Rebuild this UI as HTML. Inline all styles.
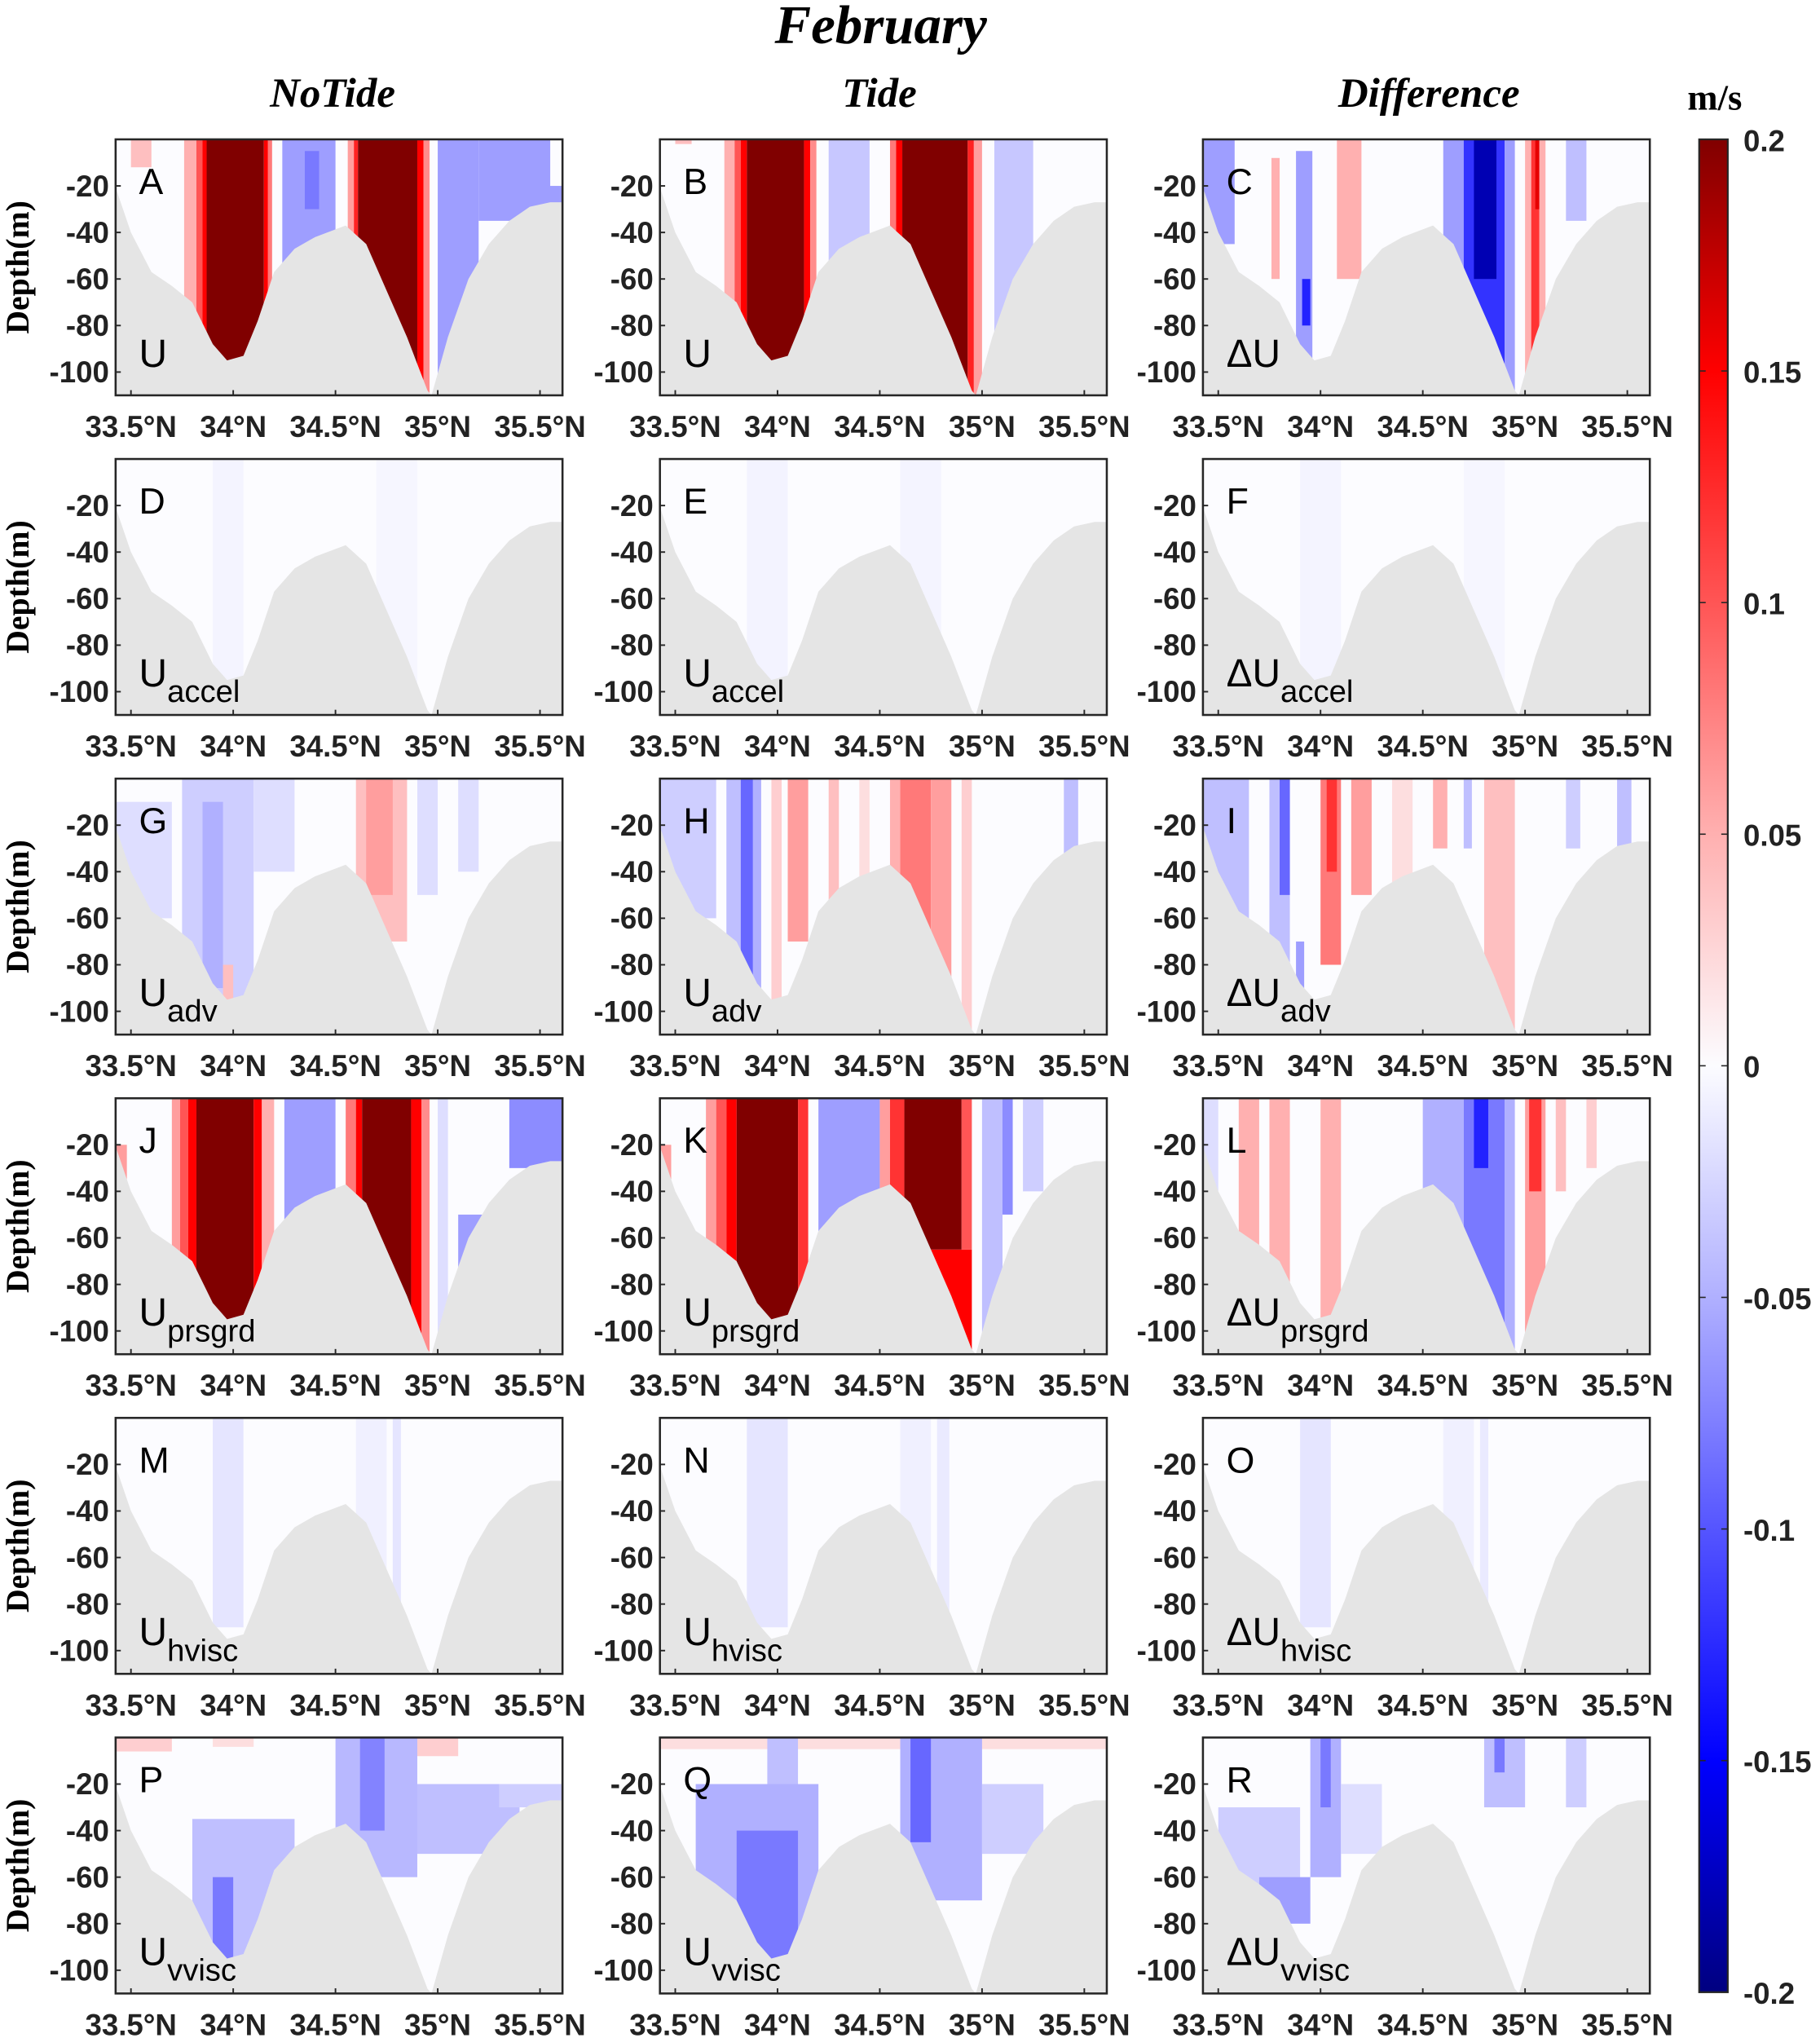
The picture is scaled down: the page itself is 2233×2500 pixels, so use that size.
<!DOCTYPE html>
<html><head><meta charset="utf-8">
<style>
html,body{margin:0;padding:0;background:#fff;}
svg{display:block;}
.tk{font-family:"Liberation Sans Narrow","Liberation Sans",sans-serif;font-weight:bold;font-size:23px;fill:#222;}
.ttl{font-family:"Liberation Serif",serif;font-weight:bold;font-style:italic;}
.lab{font-family:"Liberation Sans",sans-serif;fill:#000;}
</style></head>
<body>
<svg id="fig" width="2233" height="2500" viewBox="0 0 1401 1568" xmlns="http://www.w3.org/2000/svg">
<text class="ttl" x="678" y="33" font-size="42" text-anchor="middle">February</text>
<text class="ttl" x="256" y="82" font-size="32" text-anchor="middle">NoTide</text>
<text class="ttl" x="677" y="82" font-size="32" text-anchor="middle">Tide</text>
<text class="ttl" x="1100" y="82" font-size="32" text-anchor="middle">Difference</text>
<text x="1320" y="84" font-size="28" font-weight="bold" font-family="Liberation Serif,serif" text-anchor="middle">m/s</text>
<g id="panels"></g>
<g id="cbar"></g>
</svg>
<script>
// Bathymetry profile (lat, depth m)
const bathyLat = [33.43,33.5,33.6,33.7,33.8,33.9,33.97,34.05,34.12,34.2,34.3,34.4,34.55,34.65,34.75,34.85,34.95,34.97,35.05,35.15,35.25,35.35,35.45,35.55,35.61];
const bathyDep = [-22,-40,-57,-63,-70,-88,-95,-93,-78,-57,-47,-42,-37,-45,-65,-85,-108,-110,-85,-60,-45,-35,-29,-27,-27];
const xTicks = [33.5,34,34.5,35,35.5];
const xTickLabels = ["33.5°N","34°N","34.5°N","35°N","35.5°N"];
const yTicks = [-20,-40,-60,-80,-100];
const cbTicks = [0.2,0.15,0.1,0.05,0,-0.05,-0.1,-0.15,-0.2];
const panelLetters = ["A","B","C","D","E","F","G","H","I","J","K","L","M","N","O","P","Q","R"];
const rowSubs = ["","accel","adv","prsgrd","hvisc","vvisc"];
// bands: [lat0, lat1, value, topDepth, bottomDepth]
const bandsA = [[33.5,33.6,0.04,0,-12],[33.76,33.82,0.05],[33.82,33.85,0.1],[33.85,33.87,0.15],[33.87,34.15,0.2],[34.15,34.17,0.15],[34.17,34.19,0.08],[34.24,34.5,-0.06],[34.35,34.42,-0.08,-5,-30],[34.56,34.59,0.06],[34.59,34.61,0.13],[34.61,34.9,0.2],[34.9,34.93,0.15],[34.93,34.96,0.07],[35.0,35.2,-0.06],[35.2,35.61,-0.06,0,-35],[35.55,35.61,0,0,-20]];
const bandsB = [[33.5,33.58,0.04,0,-2],[33.74,33.79,0.05],[33.79,33.82,0.1],[33.82,33.85,0.15],[33.85,34.13,0.2],[34.13,34.16,0.15],[34.16,34.19,0.07],[34.25,34.45,-0.035],[34.55,34.58,0.08],[34.58,34.61,0.15],[34.61,34.93,0.2],[34.93,34.96,0.13],[34.96,35.0,0.06],[35.06,35.25,-0.035]];
const bandsC = [[33.43,33.58,-0.06,0,-45],[33.76,33.8,0.05,-8,-60],[33.88,33.96,-0.06,-5,-95],[33.91,33.95,-0.13,-60,-80],[34.08,34.2,0.05,0,-60],[34.6,34.7,-0.06,0,-60],[34.7,34.9,-0.12],[34.75,34.86,-0.18,0,-60],[34.9,34.95,-0.06],[35.0,35.03,0.05],[35.03,35.07,0.12],[35.05,35.07,0.16,0,-30],[35.07,35.1,0.05],[35.2,35.3,-0.04,0,-35]];
const bandsD = [[33.9,34.05,-0.005],[34.7,34.9,-0.004]];
const bandsE = [[33.85,34.05,-0.006],[34.6,34.8,-0.005]];
const bandsF = [[33.9,34.1,-0.005],[34.7,34.9,-0.004]];
const bandsG = [[33.43,33.7,-0.02,-10,-60],[33.75,34.1,-0.03],[33.85,33.95,-0.05,-10,-90],[33.95,34.0,0.04,-80,-95],[34.1,34.3,-0.02,0,-40],[34.6,34.85,0.04,0,-70],[34.65,34.78,0.06,0,-50],[34.9,35.0,-0.02,0,-50],[35.1,35.2,-0.02,0,-40]];
const bandsH = [[33.43,33.7,-0.03,0,-60],[33.75,33.82,-0.04],[33.82,33.88,-0.09,0,-90],[33.88,33.92,-0.05],[33.97,34.02,0.03],[34.05,34.15,0.06,0,-70],[34.25,34.3,0.04],[34.4,34.45,0.02],[34.55,34.6,0.05],[34.6,34.75,0.08,0,-70],[34.75,34.85,0.06,0,-100],[34.9,34.95,0.03],[35.4,35.47,-0.04,0,-40]];
const bandsI = [[33.43,33.65,-0.04,0,-60],[33.75,33.85,-0.04],[33.8,33.85,-0.09,0,-50],[33.88,33.92,-0.06,-70,-90],[34.0,34.1,0.08,0,-80],[34.03,34.08,0.12,0,-40],[34.15,34.25,0.06,0,-50],[34.35,34.45,0.02],[34.55,34.62,0.05,0,-30],[34.7,34.74,-0.04,0,-30],[34.8,34.95,0.04],[35.2,35.27,-0.03,0,-30],[35.45,35.52,-0.04,0,-30]];
const bandsJ = [[33.43,33.48,0.06,-20,-50],[33.7,33.74,0.06],[33.74,33.78,0.1],[33.78,33.82,0.15],[33.82,34.1,0.2],[34.1,34.14,0.15],[34.14,34.2,0.05],[34.25,34.5,-0.06],[34.55,34.6,0.08],[34.6,34.63,0.15],[34.63,34.87,0.2],[34.87,34.92,0.15],[34.92,34.96,0.07],[35.0,35.05,-0.02],[35.1,35.25,-0.06,-50,-80],[35.35,35.61,-0.07,0,-30]];
const bandsK = [[33.43,33.48,0.06,-20,-50],[33.65,33.7,0.06],[33.7,33.75,0.1],[33.75,33.8,0.15],[33.8,34.1,0.2],[34.1,34.15,0.12],[34.2,34.5,-0.06],[34.5,34.55,0.06],[34.55,34.62,0.12],[34.62,34.95,0.15,-65,-110],[34.62,34.9,0.2,0,-65],[34.9,34.95,0.1,0,-65],[35.0,35.1,-0.04],[35.1,35.15,-0.07,0,-50],[35.2,35.3,-0.03,0,-40]];
const bandsL = [[33.43,33.5,-0.02,0,-40],[33.6,33.7,0.05],[33.62,33.66,0.1,-70,-80],[33.75,33.85,0.05],[34.0,34.1,0.05],[34.5,34.7,-0.05],[34.7,34.9,-0.08],[34.75,34.82,-0.13,0,-30],[34.9,34.95,-0.05],[35.0,35.1,0.06],[35.02,35.08,0.12,0,-40],[35.15,35.2,0.04,0,-40],[35.3,35.35,0.03,0,-30]];
const bandsM = [[33.9,34.05,-0.015,0,-90],[34.6,34.75,-0.008],[34.78,34.82,-0.015]];
const bandsN = [[33.85,34.05,-0.015,0,-90],[34.6,34.75,-0.008],[34.78,34.84,-0.012]];
const bandsO = [[33.9,34.05,-0.015,0,-90],[34.6,34.75,-0.008],[34.78,34.82,-0.012]];
const bandsP = [[33.43,33.7,0.03,0,-6],[33.9,34.1,0.02,0,-4],[34.8,35.1,0.03,0,-8],[33.8,34.3,-0.04,-35,-100],[33.9,34.0,-0.08,-60,-95],[34.6,35.4,-0.04,-20,-50],[34.5,34.9,-0.045,0,-60],[34.62,34.74,-0.075,0,-40],[35.3,35.61,-0.03,-20,-30]];
const bandsQ = [[33.43,35.61,0.02,0,-5],[33.6,34.2,-0.05,-20,-100],[33.8,34.1,-0.08,-40,-95],[33.95,34.1,-0.04,0,-20],[34.6,35.0,-0.05,0,-70],[34.65,34.75,-0.09,0,-45],[35.0,35.3,-0.03,-20,-50]];
const bandsR = [[33.5,33.9,-0.03,-30,-70],[33.7,33.95,-0.06,-60,-80],[33.95,34.1,-0.05,0,-60],[34.0,34.05,-0.08,0,-30],[34.1,34.3,-0.02,-20,-50],[34.6,34.68,0.04,-60,-80],[34.8,35.0,-0.04,0,-30],[34.85,34.9,-0.08,0,-15],[35.2,35.3,-0.03,0,-30]];
const allBands = [bandsA,bandsB,bandsC,bandsD,bandsE,bandsF,bandsG,bandsH,bandsI,bandsJ,bandsK,bandsL,bandsM,bandsN,bandsO,bandsP,bandsQ,bandsR];

const NS="http://www.w3.org/2000/svg";
const colX=[89,508,926], rowY=[107,353,599,845,1091,1337], PW=344, PH=197;
const LAT0=33.425, LAT1=35.61, D0=0, D1=-110;
function xs(lat,x0){return x0+(lat-LAT0)/(LAT1-LAT0)*PW;}
function ys(d,y0){return y0+(D0-d)/(D0-D1)*PH;}
const stops=[[-0.2,[0,0,128]],[-0.15,[0,0,255]],[-0.1,[85,85,255]],[-0.05,[176,176,255]],[0,[252,252,255]],[0.05,[255,176,176]],[0.1,[255,85,85]],[0.15,[255,0,0]],[0.2,[128,0,0]]];
function color(v){
  v=Math.max(-0.2,Math.min(0.2,v));
  for(let i=0;i<stops.length-1;i++){const a=stops[i],b=stops[i+1];
    if(v>=a[0]&&v<=b[0]){const t=(v-a[0])/(b[0]-a[0]);
      return 'rgb('+a[1].map((c,k)=>Math.round(c+(b[1][k]-c)*t)).join(',')+')';}}
  return '#fff';
}
function el(tag,attrs,parent){const e=document.createElementNS(NS,tag);for(const k in attrs)e.setAttribute(k,attrs[k]);parent.appendChild(e);return e;}
const root=document.getElementById('panels');
allBands.forEach((bands,p)=>{
  const r=Math.floor(p/3), c=p%3, x0=colX[c], y0=rowY[r];
  const g=el('g',{},root);
  
  
  const cid='clip'+p;
  const cp=el('clipPath',{id:cid},g); el('rect',{x:x0,y:y0,width:PW,height:PH},cp);
  const inner=el('g',{'clip-path':'url(#'+cid+')'},g);
  el('rect',{x:x0,y:y0,width:PW,height:PH,fill:'#fcfcff'},inner);
  bands.forEach(b=>{
    const top=b.length>3?b[3]:0, bot=b.length>4?b[4]:-110;
    const rc=el('rect',{x:xs(b[0],x0),y:ys(top,y0),width:xs(b[1],x0)-xs(b[0],x0),height:ys(bot,y0)-ys(top,y0),fill:color(b[2])},inner);
    
    
  });
  let pts=bathyLat.map((l,i)=>xs(l,x0).toFixed(1)+','+ys(bathyDep[i],y0).toFixed(1));
  pts.push(xs(LAT1,x0)+','+(y0+PH+2)); pts.push(xs(LAT0,x0)+','+(y0+PH+2));
  const bp=el('polygon',{points:pts.join(' '),fill:'#e5e5e5'},inner);
  
  
  const fr=el('rect',{x:x0,y:y0,width:PW,height:PH,fill:'none',stroke:'#262626','stroke-width':1.6},g);
  
  
  xTicks.forEach((t,i)=>{
    const x=xs(t,x0);
    el('line',{x1:x,x2:x,y1:y0+PH,y2:y0+PH-4,stroke:'#262626','stroke-width':1.2},g);
    const tx=el('text',{x:x,y:y0+PH+32,'text-anchor':'middle',class:'tk'},g);
    tx.textContent=xTickLabels[i];
    
    
  });
  yTicks.forEach(t=>{
    const y=ys(t,y0);
    el('line',{x1:x0,x2:x0+4,y1:y,y2:y,stroke:'#262626','stroke-width':1.2},g);
    const tx=el('text',{x:x0-5,y:y+8,'text-anchor':'end',class:'tk'},g);
    tx.textContent=String(t);
    
    
  });
  if(c===0){
    const yt=el('text',{x:0,y:0,transform:'translate(22,'+(y0+PH/2)+') rotate(-90)','text-anchor':'middle','font-size':25,'font-weight':'bold','font-family':'Liberation Serif,serif'},g);
    yt.textContent='Depth(m)';
    
    
  }
  const lt=el('text',{x:x0+18,y:y0+42,'font-size':28,class:'lab'},g);
  lt.textContent=panelLetters[p];
  
  
  const vl=el('text',{x:x0+(c===2?18:18),y:y0+175,'font-size':30,class:'lab'},g);
  
  
  const m=el('tspan',{},vl); m.textContent=(c===2?'ΔU':'U');
  if(rowSubs[r]){const s=el('tspan',{dy:12,'font-size':24},vl); s.textContent=rowSubs[r];}
});
// colorbar
const cb=document.getElementById('cbar');
const cbX=1308, cbW=22, cbT=107, cbB=1533;
const defs=el('defs',{},cb);
const lg=el('linearGradient',{id:'cbg',x1:0,y1:0,x2:0,y2:1},defs);
stops.slice().reverse().forEach((s,i)=>el('stop',{offset:(i/(stops.length-1)),'stop-color':color(s[0])},lg));
const cbr=el('rect',{x:cbX,y:cbT,width:cbW,height:cbB-cbT,fill:'url(#cbg)',stroke:'#262626','stroke-width':1.4},cb);


cbTicks.forEach(t=>{
  const y=cbT+(0.2-t)/0.4*(cbB-cbT);
  el('line',{x1:cbX,x2:cbX+5,y1:y,y2:y,stroke:'#262626'},cb);
  el('line',{x1:cbX+cbW-5,x2:cbX+cbW,y1:y,y2:y,stroke:'#262626'},cb);
  const tx=el('text',{x:cbX+34,y:y+9,class:'tk','font-size':25},cb);
  tx.textContent=String(t);
  
  
});
</script>
</body></html>
